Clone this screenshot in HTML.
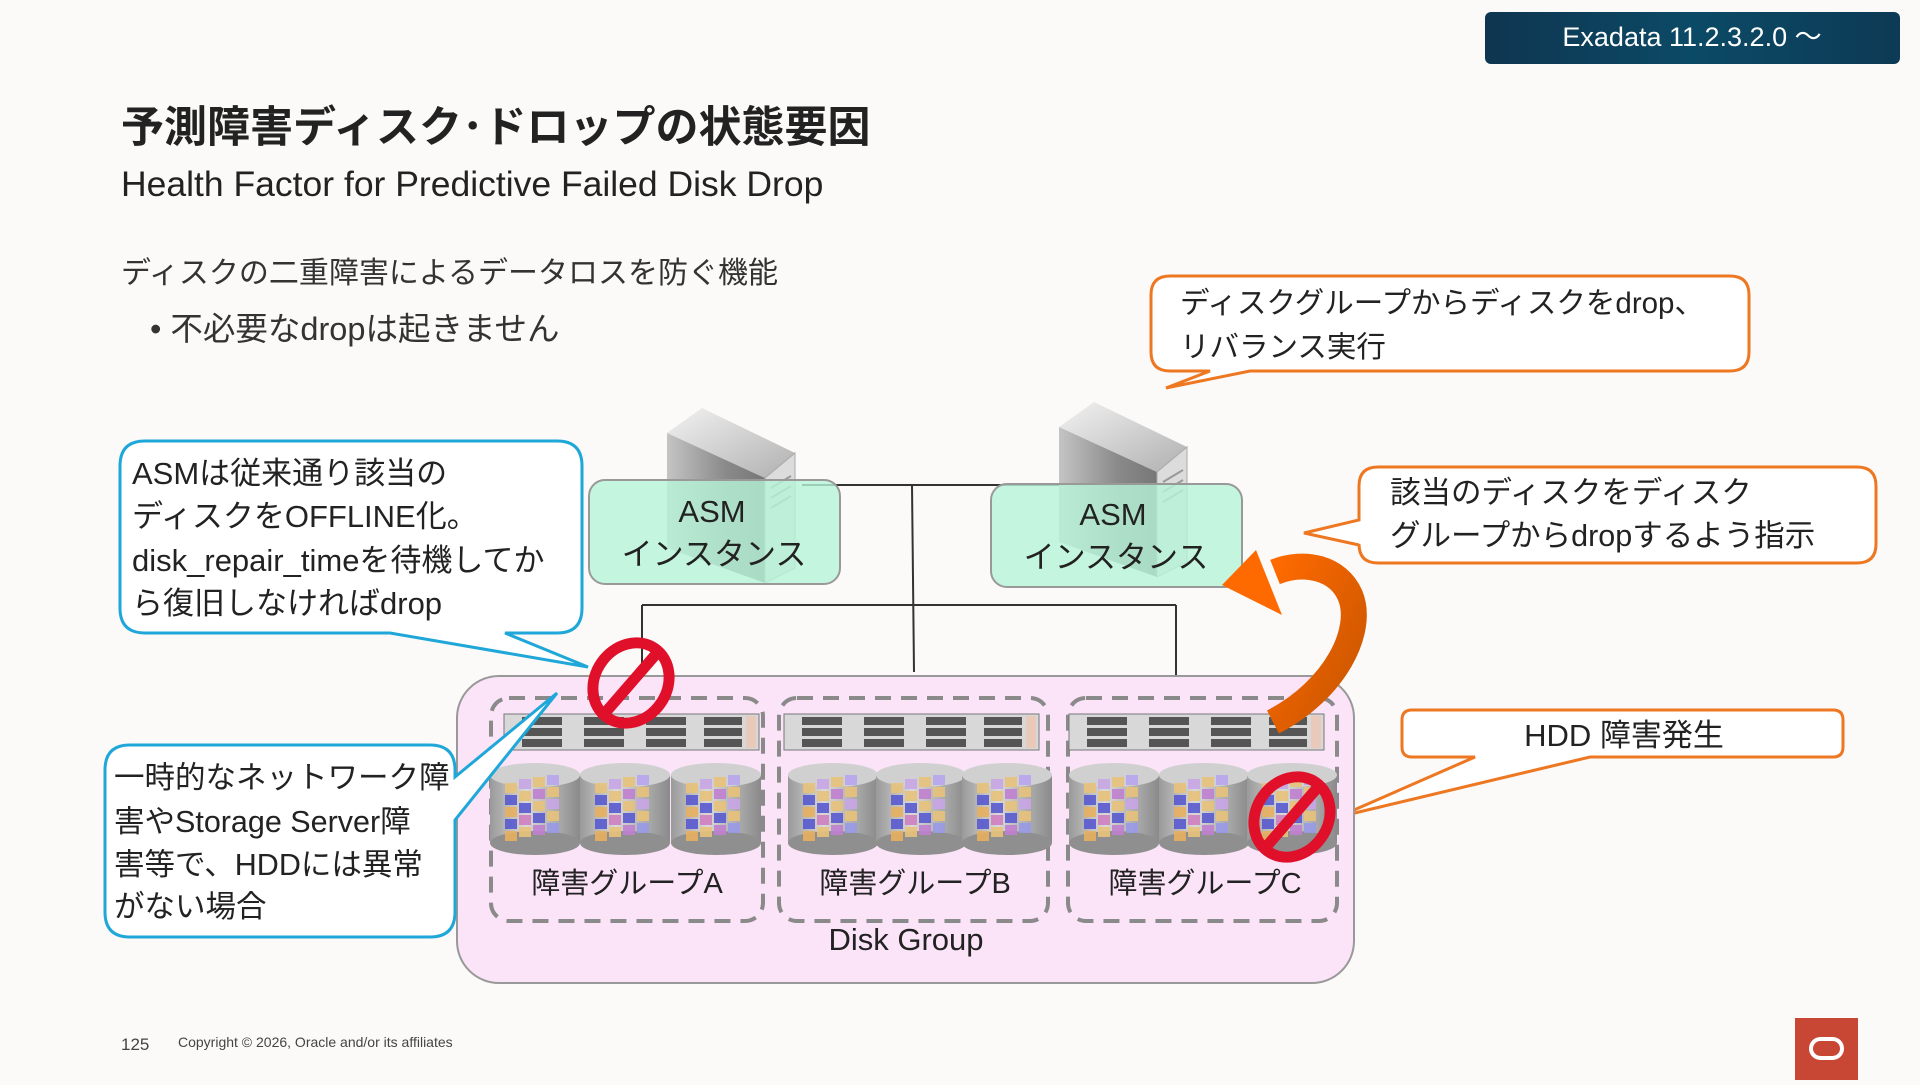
<!DOCTYPE html>
<html><head><meta charset="utf-8"><style>
html,body{margin:0;padding:0;background:#fbfaf8;}
body{width:1920px;height:1080px;position:relative;overflow:hidden;font-family:"Liberation Sans","Noto Sans CJK JP",sans-serif;color:#222;}
svg text{font-family:"Liberation Sans","Noto Sans CJK JP",sans-serif;}
</style></head><body>
<svg width="1920" height="1080" viewBox="0 0 1920 1080" xmlns="http://www.w3.org/2000/svg">
<defs>
<linearGradient id="badge" x1="0" y1="0" x2="1" y2="0"><stop offset="0" stop-color="#0f3550"/><stop offset="0.5" stop-color="#0b4a66"/><stop offset="1" stop-color="#0d3a55"/></linearGradient>
<linearGradient id="tower" x1="0" y1="0" x2="1" y2="0"><stop offset="0" stop-color="#c4c4c4"/><stop offset="0.6" stop-color="#8a8a8a"/><stop offset="1" stop-color="#777"/></linearGradient>
<linearGradient id="towtop" x1="0" y1="0" x2="1" y2="1"><stop offset="0" stop-color="#f2f2f2"/><stop offset="1" stop-color="#b0b0b0"/></linearGradient>
<linearGradient id="cyl" x1="0" y1="0" x2="1" y2="0"><stop offset="0" stop-color="#9a9a9a"/><stop offset="0.4" stop-color="#d9d9d9"/><stop offset="1" stop-color="#8a8a8a"/></linearGradient>
<linearGradient id="arr" x1="0" y1="0" x2="1" y2="1"><stop offset="0" stop-color="#ff6a00"/><stop offset="1" stop-color="#c85500"/></linearGradient>
<g id="cylg">
<rect x="-45" y="-30" width="90" height="68" fill="url(#cyl)"/>
<ellipse cx="0" cy="38" rx="45" ry="12" fill="#8f8f8f"/>
<ellipse cx="0" cy="-30" rx="45" ry="12" fill="#d0d0d0"/>
<g opacity="0.9">
<rect x="-30" y="-22" width="12" height="10" fill="#e8c27a"/><rect x="-16" y="-26" width="12" height="10" fill="#c9a6e6"/><rect x="-2" y="-28" width="12" height="10" fill="#e8c27a"/><rect x="12" y="-30" width="12" height="10" fill="#b9a6ee"/>
<rect x="-30" y="-10" width="12" height="10" fill="#5a5ad0"/><rect x="-16" y="-14" width="12" height="10" fill="#e8c27a"/><rect x="-2" y="-16" width="12" height="10" fill="#c080d0"/><rect x="12" y="-18" width="12" height="10" fill="#e8c27a"/>
<rect x="-30" y="2" width="12" height="10" fill="#e8b060"/><rect x="-16" y="-2" width="12" height="10" fill="#5a5ad0"/><rect x="-2" y="-4" width="12" height="10" fill="#e8c27a"/><rect x="12" y="-6" width="12" height="10" fill="#c9a6e6"/>
<rect x="-30" y="14" width="12" height="10" fill="#5a5ad0"/><rect x="-16" y="10" width="12" height="10" fill="#d080c0"/><rect x="-2" y="8" width="12" height="10" fill="#5a5ad0"/><rect x="12" y="6" width="12" height="10" fill="#e8c27a"/>
<rect x="-30" y="26" width="12" height="10" fill="#e8b060"/><rect x="-16" y="22" width="12" height="10" fill="#e8c27a"/><rect x="-2" y="20" width="12" height="10" fill="#c080d0"/><rect x="12" y="18" width="12" height="10" fill="#9a9ae8"/>
</g>
</g>
<g id="rack">
<rect x="0" y="0" width="255" height="36" fill="#d8d8d8" stroke="#777" stroke-width="1"/>
<g fill="#555"><rect x="18" y="3" width="40" height="8"/><rect x="80" y="3" width="40" height="8"/><rect x="142" y="3" width="40" height="8"/><rect x="200" y="3" width="38" height="8"/>
<rect x="18" y="14" width="40" height="8"/><rect x="80" y="14" width="40" height="8"/><rect x="142" y="14" width="40" height="8"/><rect x="200" y="14" width="38" height="8"/>
<rect x="18" y="25" width="40" height="8"/><rect x="80" y="25" width="40" height="8"/><rect x="142" y="25" width="40" height="8"/><rect x="200" y="25" width="38" height="8"/></g>
<rect x="242" y="2" width="10" height="32" fill="#e9c9b9"/>
</g>
<g id="nosign">
<ellipse cx="0" cy="0" rx="42" ry="36" fill="none" stroke="#e0102a" stroke-width="11" transform="rotate(-55)"/>
<line x1="26" y1="-30" x2="-26" y2="30" stroke="#e0102a" stroke-width="11"/>
</g>
<g id="tow">
<polygon points="0,25 35,0 128,45 98,70" fill="url(#towtop)"/>
<polygon points="0,25 98,70 98,175 0,140" fill="url(#tower)"/>
<polygon points="98,70 128,45 128,160 98,175" fill="#dcdcdc" stroke="#aaa"/>
<g stroke="#999" stroke-width="2"><line x1="104" y1="80" x2="124" y2="68"/><line x1="104" y1="90" x2="124" y2="78"/><line x1="104" y1="100" x2="124" y2="88"/></g>
</g>
</defs>

<!-- badge -->
<rect x="1485" y="12" width="415" height="52" rx="6" fill="url(#badge)"/>
<text x="1692" y="46" font-size="27" fill="#fff" text-anchor="middle">Exadata 11.2.3.2.0 ～</text>

<!-- titles -->
<text x="121" y="142" font-size="43" font-weight="bold" fill="#222">予測障害ディスク･ドロップの状態要因</text>
<text x="121" y="196" font-size="35.5" fill="#222">Health Factor for Predictive Failed Disk Drop</text>
<text x="121" y="283" font-size="30" fill="#333">ディスクの二重障害によるデータロスを防ぐ機能</text>
<text x="150" y="340" font-size="32.5" fill="#333">• 不必要なdropは起きません</text>

<!-- top orange callout -->
<path d="M1170,276 H1730 Q1749,276 1749,295 V352 Q1749,371 1730,371 H1250 L1166,388 L1210,371 H1170 Q1151,371 1151,352 V295 Q1151,276 1170,276 Z" fill="#fff" stroke="#ee7722" stroke-width="3"/>
<text x="1180" y="313" font-size="29.5" fill="#222">ディスクグループからディスクをdrop、</text>
<text x="1180" y="357" font-size="29.5" fill="#222">リバランス実行</text>

<!-- right orange callout -->
<path d="M1378,467 H1857 Q1876,467 1876,486 V544 Q1876,563 1857,563 H1378 Q1359,563 1359,544 V545 L1304,533 L1359,520 V486 Q1359,467 1378,467 Z" fill="#fff" stroke="#ee7722" stroke-width="3"/>
<text x="1390" y="503" font-size="30.5" fill="#222">該当のディスクをディスク</text>
<text x="1390" y="546" font-size="30.5" fill="#222">グループからdropするよう指示</text>

<!-- HDD callout -->
<path d="M1412,710 H1833 Q1843,710 1843,720 V747 Q1843,757 1833,757 H1590 L1338,817 L1475,757 H1412 Q1402,757 1402,747 V720 Q1402,710 1412,710 Z" fill="#fff" stroke="#ee7722" stroke-width="3"/>
<text x="1624" y="746" font-size="31" fill="#222" text-anchor="middle">HDD 障害発生</text>

<!-- network lines -->
<g stroke="#333" stroke-width="2" fill="none">
<line x1="802" y1="485" x2="1062" y2="485"/>
<line x1="912" y1="485" x2="914" y2="672"/>
<line x1="642" y1="605" x2="1176" y2="605"/>
<line x1="642" y1="605" x2="642" y2="672"/>
<line x1="1176" y1="605" x2="1176" y2="690"/>
</g>

<!-- towers -->
<use href="#tow" x="667" y="408"/>
<use href="#tow" x="1059" y="402"/>
<!-- ASM boxes -->
<rect x="589" y="480" width="251" height="104" rx="16" fill="#b6f5d8" fill-opacity="0.8" stroke="#999" stroke-width="2"/>
<text x="712" y="522" font-size="31" fill="#222" text-anchor="middle">ASM</text>
<text x="714" y="565" font-size="31" fill="#222" text-anchor="middle">インスタンス</text>
<rect x="991" y="484" width="251" height="103" rx="16" fill="#b6f5d8" fill-opacity="0.8" stroke="#999" stroke-width="2"/>
<text x="1113" y="525" font-size="31" fill="#222" text-anchor="middle">ASM</text>
<text x="1116" y="568" font-size="31" fill="#222" text-anchor="middle">インスタンス</text>

<!-- disk group -->
<rect x="457" y="676" width="897" height="307" rx="42" fill="#fbe3f8" stroke="#999" stroke-width="2"/>
<g fill="none" stroke="#8a8a8a" stroke-width="4" stroke-dasharray="16,10">
<rect x="491" y="698" width="272" height="223" rx="18"/>
<rect x="779" y="698" width="269" height="223" rx="18"/>
<rect x="1068" y="698" width="269" height="223" rx="18"/>
</g>
<use href="#rack" x="504" y="714"/>
<use href="#rack" x="784" y="714"/>
<use href="#rack" x="1069" y="714"/>
<use href="#cylg" x="535" y="805"/><use href="#cylg" x="625" y="805"/><use href="#cylg" x="716" y="805"/>
<use href="#cylg" x="833" y="805"/><use href="#cylg" x="921" y="805"/><use href="#cylg" x="1007" y="805"/>
<use href="#cylg" x="1114" y="805"/><use href="#cylg" x="1204" y="805"/><use href="#cylg" x="1292" y="805"/>
<text x="627" y="893" font-size="29" fill="#222" text-anchor="middle">障害グループA</text>
<text x="915" y="893" font-size="29" fill="#222" text-anchor="middle">障害グループB</text>
<text x="1205" y="893" font-size="29" fill="#222" text-anchor="middle">障害グループC</text>
<text x="906" y="950" font-size="31" fill="#222" text-anchor="middle">Disk Group</text>

<!-- orange arrow -->
<path d="M1273,722 C1335,690 1365,630 1350,595 C1338,568 1305,560 1275,572" fill="none" stroke="url(#arr)" stroke-width="26"/>
<polygon points="1222,585 1256,550 1282,615" fill="#ff6a00"/>

<!-- no signs -->
<use href="#nosign" x="631" y="683"/>
<use href="#nosign" x="1292" y="817"/>

<!-- blue callout 1 -->
<path d="M145,441 H557 Q582,441 582,466 V608 Q582,633 557,633 H505 L588,667 L390,633 H145 Q120,633 120,608 V466 Q120,441 145,441 Z" fill="#fff" stroke="#1ea7d8" stroke-width="3"/>
<text x="132" y="484" font-size="31" fill="#222">ASMは従来通り該当の</text>
<text x="132" y="527" font-size="31" fill="#222">ディスクをOFFLINE化。</text>
<text x="132" y="571" font-size="31" fill="#222">disk_repair_timeを待機してか</text>
<text x="132" y="614" font-size="31" fill="#222">ら復旧しなければdrop</text>

<!-- blue callout 2 -->
<path d="M130,745 H430 Q455,745 455,770 V777 L557,693 L455,820 V912 Q455,937 430,937 H130 Q105,937 105,912 V770 Q105,745 130,745 Z" fill="#fff" stroke="#1ea7d8" stroke-width="3"/>
<text x="114" y="788" font-size="30.5" fill="#222">一時的なネットワーク障</text>
<text x="114" y="832" font-size="30.5" fill="#222">害やStorage Server障</text>
<text x="114" y="875" font-size="30.5" fill="#222">害等で、HDDには異常</text>
<text x="114" y="917" font-size="30.5" fill="#222">がない場合</text>

<!-- footer -->
<text x="121" y="1050" font-size="17" fill="#444">125</text>
<text x="178" y="1047" font-size="14" fill="#444">Copyright © 2026, Oracle and/or its affiliates</text>
<rect x="1795" y="1018" width="63" height="62" fill="#c74634"/>
<rect x="1811" y="1039" width="31" height="19" rx="9.5" fill="none" stroke="#fff" stroke-width="4"/>
</svg>
</body></html>
